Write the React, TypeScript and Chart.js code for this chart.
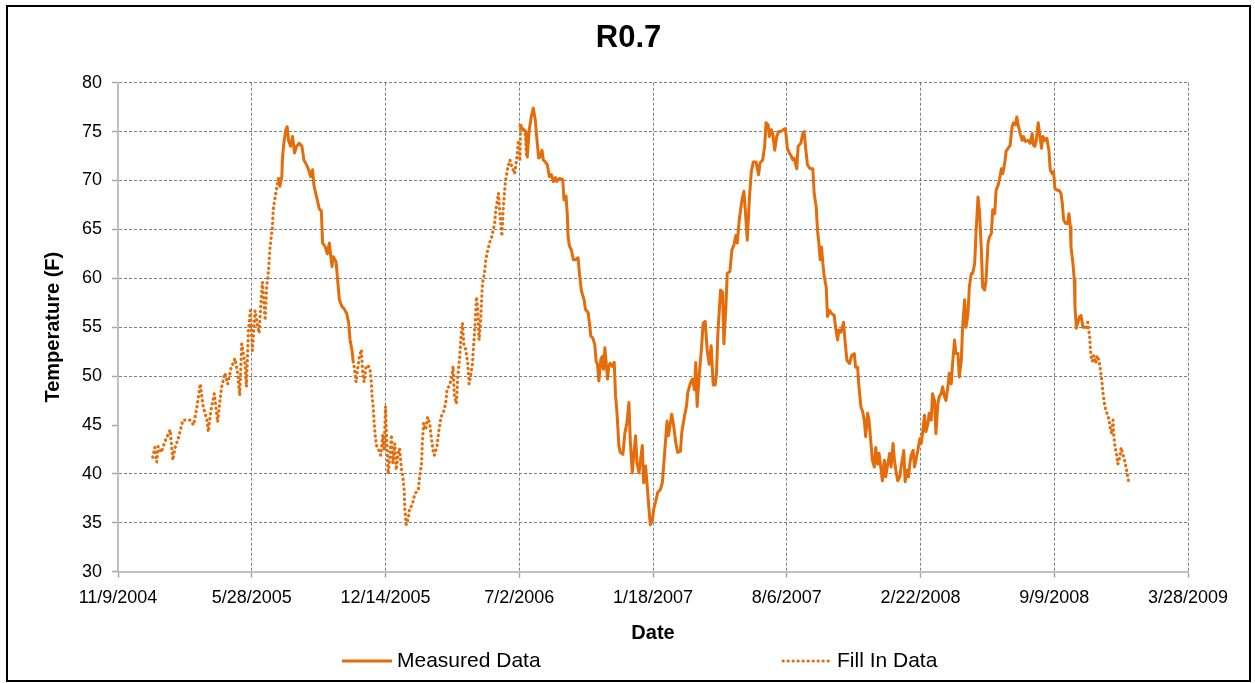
import React, { useEffect, useRef } from 'react';
import { Chart, registerables } from 'chart.js';

Chart.register(...registerables);

// ---------- text ----------
const chartTitle = 'R0.7';
const yAxisTitle = 'Temperature (F)';
const xAxisTitle = 'Date';
const seriesNames = ['Measured Data', 'Fill In Data'];

// ---------- axes (x values are spreadsheet date serials) ----------
const xMin = 38300;
const xMax = 39900;
const xStep = 200;
const xTickLabels = ['11/9/2004', '5/28/2005', '12/14/2005', '7/2/2006', '1/18/2007', '8/6/2007', '2/22/2008', '9/9/2008', '3/28/2009'];
const yMin = 30;
const yMax = 80;
const yStep = 5;

// ---------- Fill In Data, segment 1 ----------
const fill1Dates = [38352, 38355, 38358, 38360, 38365, 38370, 38378, 38382, 38385, 38390, 38393, 38397, 38408, 38413, 38418, 38423, 38427, 38433, 38435, 38439, 38444, 38449, 38452, 38455, 38460, 38464, 38469, 38475, 38479, 38482, 38485, 38490, 38492, 38495, 38498, 38501, 38505, 38508, 38511, 38513, 38516, 38520, 38522, 38525, 38527, 38531, 38532, 38535, 38538, 38540];
const fill1Temps = [41.7, 42.7, 41.2, 42.8, 42.2, 43.3, 44.5, 41.4, 42.6, 43.6, 44.4, 45.5, 45.5, 45.0, 46.8, 49.2, 47.0, 45.5, 44.3, 46.5, 48.2, 45.3, 47.2, 48.9, 50.3, 49.2, 50.8, 51.8, 50.3, 48.0, 53.3, 51.3, 48.9, 54.7, 56.7, 52.6, 56.7, 55.4, 54.4, 56.7, 59.6, 55.7, 58.8, 60.8, 62.9, 65.3, 67.0, 68.3, 69.5, 70.2];

// ---------- Measured Data, segment 1 ----------
const measured1Dates = [38540, 38542, 38545, 38546, 38548, 38551, 38553, 38555, 38558, 38561, 38564, 38567, 38571, 38575, 38578, 38582, 38585, 38588, 38591, 38593, 38597, 38601, 38604, 38606, 38610, 38613, 38616, 38620, 38622, 38626, 38628, 38631, 38635, 38638, 38642, 38645, 38647, 38650, 38652];
const measured1Temps = [70.2, 69.4, 70.4, 72.4, 73.8, 75.2, 75.5, 74.1, 73.5, 74.5, 72.8, 73.5, 73.8, 73.5, 72.1, 71.6, 71.1, 70.4, 71.1, 69.5, 68.3, 67.1, 66.9, 63.6, 63.2, 62.5, 63.6, 61.2, 62.2, 61.7, 60.2, 57.8, 57.1, 56.9, 56.4, 55.4, 53.7, 52.6, 51.3];

// ---------- Fill In Data, segment 2 ----------
const fill2Dates = [38653, 38656, 38658, 38661, 38664, 38666, 38668, 38671, 38674, 38677, 38679, 38680, 38682, 38683, 38685, 38687, 38690, 38693, 38696, 38698, 38700, 38701, 38704, 38706, 38709, 38711, 38714, 38716, 38719, 38721, 38724, 38726, 38728, 38729, 38731, 38734, 38736, 38740, 38744, 38749, 38751, 38754, 38755, 38757, 38760, 38763, 38766, 38768, 38771, 38773, 38777, 38780, 38783, 38787, 38790, 38792, 38796, 38799, 38801, 38803, 38806, 38808, 38811, 38813, 38815, 38817, 38820, 38823, 38825, 38827, 38830, 38832, 38834, 38836, 38838, 38840, 38842, 38845, 38848, 38850, 38853, 38856, 38859, 38863, 38865, 38869, 38871, 38874, 38876, 38879, 38883, 38886, 38889, 38893, 38896, 38899, 38901, 38902, 38906, 38909, 38911];
const fill2Temps = [51.0, 49.4, 50.6, 52.0, 52.7, 50.3, 49.4, 51.0, 51.1, 50.6, 49.2, 47.9, 46.5, 45.2, 43.6, 42.8, 42.4, 41.9, 44.0, 42.4, 46.9, 44.8, 40.0, 41.4, 44.0, 41.1, 43.1, 40.4, 42.1, 42.6, 40.4, 39.7, 38.3, 36.3, 34.8, 35.4, 36.5, 36.8, 38.0, 38.3, 39.7, 41.1, 43.1, 45.2, 44.5, 45.8, 45.2, 44.0, 42.4, 41.9, 42.8, 44.5, 45.8, 46.4, 47.2, 48.6, 49.1, 49.9, 51.0, 47.9, 47.2, 49.9, 52.0, 54.0, 55.4, 53.3, 52.7, 51.3, 49.2, 49.9, 51.3, 53.3, 55.4, 58.1, 56.8, 53.7, 55.4, 59.5, 60.5, 61.9, 62.9, 63.7, 64.3, 65.5, 67.0, 68.7, 66.6, 64.3, 67.0, 69.7, 71.4, 72.1, 71.4, 70.7, 72.1, 74.1, 72.0, 75.7, 75.2, 74.8, 72.3];

// ---------- Measured Data, segment 2 ----------
const measured2Dates = [
  38900, 38905, 38910, 38912, 38915, 38918, 38921, 38924, 38926, 38929, 38931, 38934, 38936, 38939, 38942, 38945, 38948, 38951, 38954, 38956,
  38960, 38965, 38967, 38970, 38972, 38973, 38975, 38978, 38981, 38984, 38988, 38990, 38993, 38997, 38999, 39003, 39005, 39007, 39010, 39013,
  39015, 39017, 39019, 39022, 39024, 39026, 39028, 39030, 39032, 39034, 39036, 39039, 39042, 39044, 39046, 39049, 39051, 39055, 39058, 39061,
  39064, 39066, 39069, 39071, 39074, 39076, 39079, 39081, 39084, 39086, 39089, 39091, 39094, 39096, 39099, 39101, 39104, 39107, 39111, 39114,
  39117, 39121, 39123, 39126, 39128, 39131, 39134, 39137, 39141, 39143, 39147, 39150, 39152, 39156, 39159, 39162, 39164, 39166, 39169, 39172,
  39175, 39178, 39181, 39184, 39187, 39190,
  39193, 39195, 39197, 39201, 39204, 39206, 39209, 39211, 39215, 39218, 39221, 39224, 39226, 39229, 39233, 39236, 39239, 39241, 39244, 39247,
  39250, 39254, 39258, 39260, 39264, 39267, 39269, 39272, 39274, 39277, 39279, 39282, 39285, 39288, 39291, 39295, 39298, 39301, 39304, 39306,
  39309, 39311, 39315, 39317, 39321, 39324, 39326, 39328, 39331, 39335, 39339, 39341, 39344, 39346, 39348, 39350, 39352, 39354, 39356, 39359,
  39361, 39364, 39367, 39371, 39373, 39376, 39378, 39381, 39385, 39387, 39390, 39394, 39397, 39401, 39403, 39406, 39408, 39411, 39413, 39416,
  39418, 39421, 39423, 39426, 39428, 39431, 39433, 39436, 39438, 39441, 39443, 39446, 39448, 39451, 39454, 39456, 39459, 39461, 39464, 39466,
  39469, 39471, 39475, 39477, 39480, 39482, 39484,
  39486, 39489, 39491, 39494, 39496, 39499, 39501, 39503, 39506, 39508, 39511, 39513, 39516, 39518, 39521, 39523, 39526, 39528, 39531, 39533,
  39536, 39538, 39541, 39543, 39546, 39548, 39551, 39553, 39556, 39558, 39561, 39563, 39566, 39568, 39571, 39573, 39576, 39578, 39581, 39583,
  39586, 39588, 39591, 39593, 39596, 39598, 39601, 39603, 39606, 39608, 39611, 39613, 39616, 39618, 39621, 39623, 39626, 39628, 39631, 39634,
  39637, 39639, 39642, 39644, 39646, 39649, 39652, 39654, 39657, 39661, 39664, 39667, 39669, 39671, 39673, 39676, 39678, 39681, 39683, 39686,
  39689, 39692, 39694, 39697, 39699, 39701, 39704, 39707, 39710, 39712, 39714, 39717, 39720, 39722, 39724, 39725, 39728, 39730, 39731, 39733,
  39735, 39738, 39740, 39743, 39746, 39749, 39752,
];
const measured2Temps = [
  75.7, 75.3, 75.0, 72.4, 75.2, 76.5, 77.4, 76.2, 74.5, 72.3, 72.4, 73.1, 72.1, 71.9, 71.6, 70.4, 70.6, 69.9, 70.3, 69.9,
  70.2, 70.1, 68.0, 68.4, 66.3, 64.3, 63.3, 62.9, 61.9, 61.9, 62.1, 60.5, 58.7, 57.8, 56.8, 56.5, 55.4, 54.1, 53.9, 53.2,
  51.5, 51.2, 49.5, 51.7, 52.0, 50.7, 52.9, 51.4, 49.7, 51.0, 51.3, 51.0, 51.4, 48.0, 46.4, 42.9, 42.2, 42.0, 44.2, 45.2,
  47.3, 43.5, 40.1, 41.8, 43.9, 41.2, 40.1, 41.2, 42.9, 39.1, 40.8, 39.0, 36.4, 34.8, 35.2, 36.4, 37.2, 38.1, 38.4, 39.1,
  41.8, 45.4, 43.9, 45.2, 46.1, 44.9, 43.2, 42.2, 42.3, 44.2, 45.9, 46.9, 48.3, 49.3, 49.7, 48.6, 51.4, 46.9, 50.0, 52.4,
  55.4, 55.6, 52.7, 51.2, 53.1, 49.1,
  49.1, 50.3, 54.4, 58.8, 58.6, 53.3, 57.1, 60.5, 60.7, 62.9, 63.4, 64.4, 63.6, 66.0, 68.0, 68.9, 66.0, 63.9, 68.0, 70.9,
  71.9, 71.9, 70.6, 71.8, 72.1, 73.5, 75.9, 75.7, 74.5, 75.2, 74.8, 73.1, 74.5, 75.0, 75.0, 75.2, 75.3, 73.3, 72.8, 72.6,
  72.1, 72.3, 71.2, 73.5, 73.8, 74.8, 75.0, 73.5, 71.6, 71.2, 71.2, 68.7, 67.3, 64.9, 63.6, 61.9, 63.2, 61.5, 60.2, 59.1,
  56.1, 56.7, 56.4, 56.2, 55.0, 53.7, 54.7, 54.5, 55.5, 53.7, 51.6, 51.3, 52.1, 52.3, 50.9, 50.9, 48.9, 46.8, 46.5, 45.5,
  43.8, 46.2, 45.5, 43.1, 41.4, 40.7, 42.7, 41.0, 42.1, 40.5, 39.3, 41.4, 39.7, 41.0, 42.1, 40.7, 43.1, 41.4, 40.0, 39.3,
  39.7, 40.7, 42.4, 39.2, 40.4, 39.7, 41.0,
  41.9, 42.4, 40.7, 41.7, 42.4, 43.6, 43.1, 44.1, 46.0, 44.3, 45.1, 46.2, 45.5, 48.2, 47.5, 44.1, 47.2, 47.9, 48.2, 48.9,
  47.9, 47.5, 48.9, 50.3, 49.2, 51.3, 53.7, 52.3, 52.3, 49.9, 51.6, 55.0, 57.8, 55.0, 56.4, 59.1, 60.5, 60.5, 61.5, 64.6,
  68.3, 67.0, 62.9, 59.1, 58.8, 59.8, 63.6, 64.2, 64.6, 67.0, 66.6, 69.0, 69.5, 70.1, 71.2, 70.7, 71.8, 73.0, 73.3, 73.6,
  75.5, 75.9, 75.7, 76.5, 75.7, 74.8, 74.1, 74.5, 74.0, 74.1, 73.8, 74.8, 73.6, 73.5, 74.0, 75.9, 74.8, 73.3, 74.5, 74.1,
  74.3, 73.1, 71.1, 70.7, 70.9, 69.2, 69.0, 69.0, 68.7, 67.7, 66.0, 65.6, 65.6, 66.6, 65.3, 63.2, 61.5, 59.8, 57.1, 54.9,
  55.4, 56.1, 56.2, 55.0, 55.0, 55.0, 54.9,
];

// ---------- Fill In Data, segment 3 ----------
const fill3Dates = [39750, 39753, 39754, 39755, 39757, 39759, 39762, 39764, 39767, 39769, 39771, 39773, 39775, 39777, 39780, 39782, 39784, 39786, 39788, 39789, 39791, 39793, 39795, 39798, 39800, 39803, 39805, 39808, 39810, 39811];
const fill3Temps = [55.5, 54.0, 52.8, 52.0, 51.5, 52.1, 51.3, 52.1, 51.6, 50.6, 49.6, 48.2, 47.2, 46.5, 46.0, 45.5, 44.5, 44.1, 45.5, 43.9, 42.7, 42.1, 41.0, 41.7, 42.7, 41.9, 41.4, 40.5, 39.7, 39.3];

// ---------- helpers ----------
type Pt = { x: number; y: number | null };
const toPoints = (dates: number[], temps: number[]): Pt[] => dates.map((d, i) => ({ x: d, y: temps[i] }));
const joinSegments = (segs: Pt[][]): Pt[] => {
  const out: Pt[] = [];
  segs.forEach((s, k) => {
    if (k > 0) out.push({ x: (out[out.length - 1].x + s[0].x) / 2, y: null });
    out.push(...s);
  });
  return out;
};

const ORANGE = '#E46C0A';
const FONT = 'Arial, "Liberation Sans", sans-serif';
const GRID = '#7f7f7f';
const AXIS = '#bfbfbf';
const FILL_DASH = [0.3, 4.7];

const legendPlugin = {
  id: 'bottomLegend',
  afterDraw(chart: any) {
    const { ctx } = chart;
    const y = chart.height - 19;
    const items = [
      { text: seriesNames[0], x0: 334, x1: 384, tx: 389, dash: [] as number[], cap: 'butt' },
      { text: seriesNames[1], x0: 775, x1: 821, tx: 829, dash: FILL_DASH, cap: 'round' },
    ];
    ctx.save();
    items.forEach((it) => {
      ctx.beginPath();
      ctx.strokeStyle = ORANGE;
      ctx.lineWidth = 3;
      ctx.lineCap = it.cap;
      ctx.setLineDash(it.dash);
      ctx.moveTo(it.x0, y);
      ctx.lineTo(it.x1, y);
      ctx.stroke();
      ctx.setLineDash([]);
      ctx.fillStyle = '#000';
      ctx.font = `21px ${FONT}`;
      ctx.textBaseline = 'middle';
      ctx.textAlign = 'left';
      ctx.fillText(it.text, it.tx, y);
    });
    ctx.restore();
  },
};

export default function App() {
  const ref = useRef<HTMLCanvasElement>(null);

  useEffect(() => {
    if (!ref.current) return;
    const measured = joinSegments([toPoints(measured1Dates, measured1Temps), toPoints(measured2Dates, measured2Temps)]);
    const fill = joinSegments([toPoints(fill1Dates, fill1Temps), toPoints(fill2Dates, fill2Temps), toPoints(fill3Dates, fill3Temps)]);

    const chart = new Chart(ref.current, {
      type: 'line',
      data: {
        datasets: [
          {
            label: seriesNames[0],
            data: measured as any,
            borderColor: ORANGE,
            backgroundColor: ORANGE,
            borderWidth: 3,
            borderJoinStyle: 'round',
            pointRadius: 0,
            pointHoverRadius: 0,
            tension: 0,
            spanGaps: false,
          },
          {
            label: seriesNames[1],
            data: fill as any,
            borderColor: ORANGE,
            backgroundColor: ORANGE,
            borderWidth: 3.2,
            borderDash: FILL_DASH,
            borderCapStyle: 'round',
            borderJoinStyle: 'round',
            pointRadius: 0,
            pointHoverRadius: 0,
            tension: 0,
            spanGaps: false,
          },
        ],
      },
      options: {
        responsive: true,
        maintainAspectRatio: false,
        animation: false,
        events: [],
        layout: { padding: { top: 0, left: 0, right: 0, bottom: 28.3 } },
        plugins: {
          legend: { display: false },
          tooltip: { enabled: false },
          title: {
            display: true,
            text: chartTitle,
            color: '#000',
            font: { family: FONT, size: 31, weight: 'bold' },
            padding: { top: 12.4, bottom: 26.1 },
          },
        },
        scales: {
          x: {
            type: 'linear',
            min: xMin,
            max: xMax,
            afterFit: (scale: any) => {
              scale.height = 80;
            },
            ticks: {
              stepSize: xStep,
              autoSkip: false,
              maxRotation: 0,
              padding: 10,
              color: '#000',
              font: { family: FONT, size: 18 },
              callback: (_v: any, i: number) => xTickLabels[i],
            },
            grid: {
              color: GRID,
              lineWidth: 1,
              tickLength: 6,
              tickColor: '#a6a6a6',
              tickWidth: 1.5,
              tickBorderDash: [],
            },
            border: { color: AXIS, width: 2, dash: [3, 2] },
            title: {
              display: true,
              text: xAxisTitle,
              color: '#000',
              font: { family: FONT, size: 20, weight: 'bold' },
              padding: { top: 0, bottom: 6.7 },
            },
          },
          y: {
            type: 'linear',
            min: yMin,
            max: yMax,
            afterFit: (scale: any) => {
              scale.width = 110;
            },
            ticks: {
              stepSize: yStep,
              padding: 10,
              color: '#000',
              font: { family: FONT, size: 18 },
            },
            grid: {
              color: (c: any) => (c.tick && c.tick.value === 45 ? 'rgba(0,0,0,0)' : GRID),
              lineWidth: 1,
              tickLength: 6,
              tickColor: '#a6a6a6',
              tickWidth: 1.5,
              tickBorderDash: [],
            },
            border: { color: AXIS, width: 2, dash: [3, 2] },
            title: {
              display: true,
              text: yAxisTitle,
              color: '#000',
              font: { family: FONT, size: 20, weight: 'bold' },
              padding: { top: 33, bottom: 0 },
            },
          },
          // empty right-hand gutter so the title centres on the full frame
          yGutter: {
            type: 'linear',
            position: 'right',
            display: true,
            afterFit: (scale: any) => {
              scale.width = 61;
            },
            ticks: { display: false },
            grid: { display: false, drawTicks: false },
            border: { display: false },
          },
        },
      },
      plugins: [legendPlugin],
    } as any);

    return () => chart.destroy();
  }, []);

  return (
    <div
      style={{
        position: 'absolute',
        left: 6,
        top: 5,
        width: 1245,
        height: 677,
        border: '2px solid #000',
        boxSizing: 'border-box',
        background: '#fff',
      }}
    >
      <div style={{ position: 'relative', width: 1241, height: 673 }}>
        <canvas ref={ref} />
      </div>
    </div>
  );
}
